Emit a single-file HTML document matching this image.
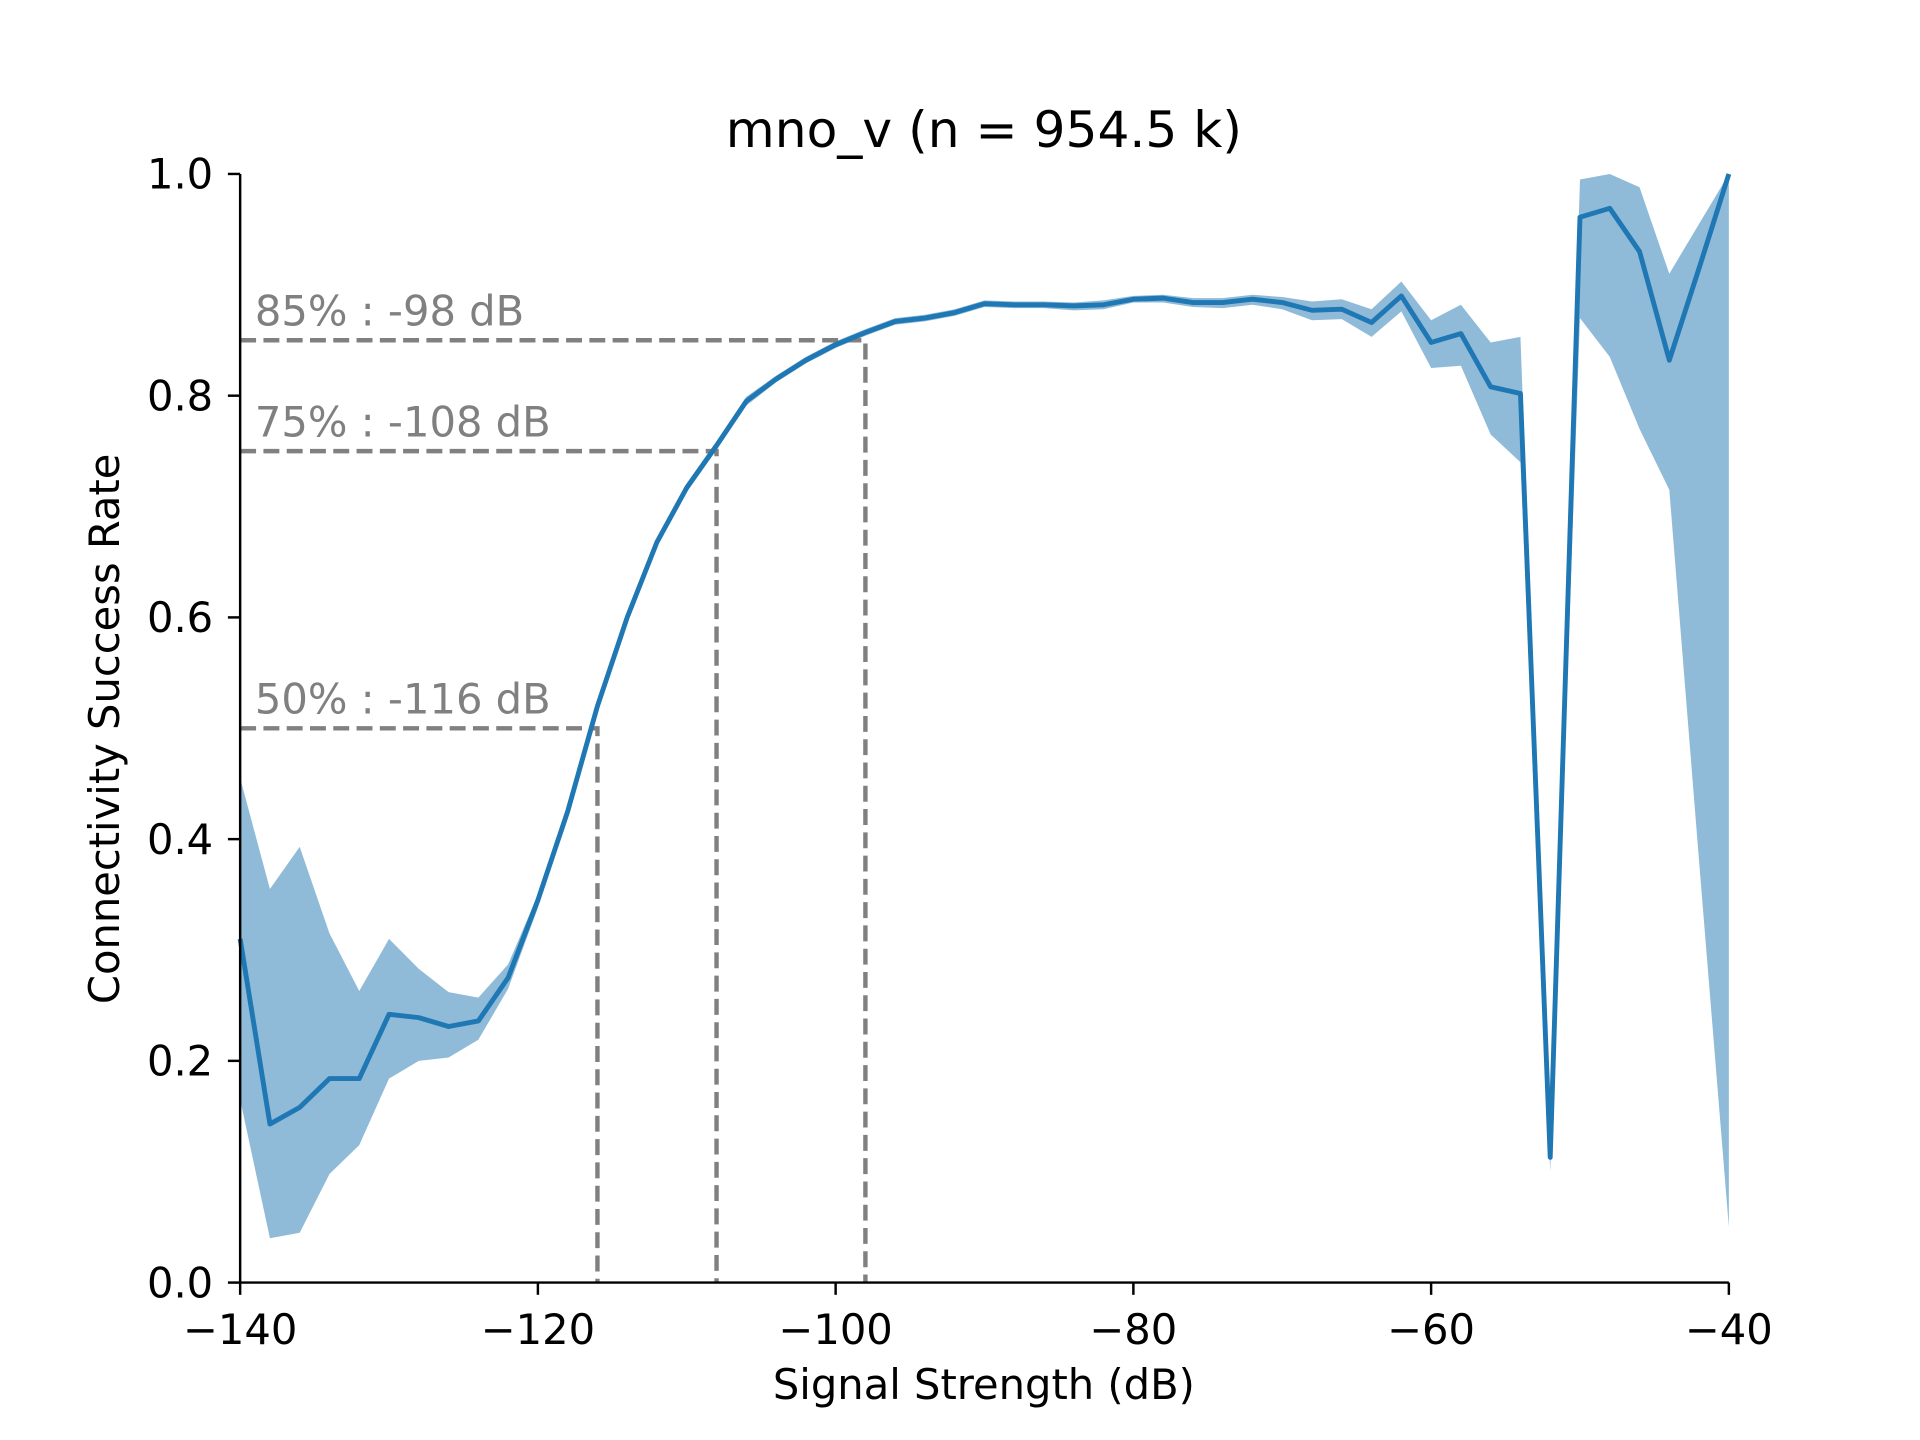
<!DOCTYPE html>
<html><head><meta charset="utf-8"><style>
html,body{margin:0;padding:0;background:#fff;}
svg{display:block;}
text{font-family:"DejaVu Sans","Liberation Sans",sans-serif;}
</style></head><body>
<svg id="chart" width="1920" height="1440" viewBox="0 0 1567 1175.5" preserveAspectRatio="none" xmlns="http://www.w3.org/2000/svg">
<text x="803" y="120" font-size="41" text-anchor="middle" fill="#000">mno_v (n = 954.5 k)</text>
<g id="band"></g>
<g id="refs"></g>
<g id="line"></g>
<g id="axes"></g>
<text x="803" y="1142" font-size="34" text-anchor="middle">Signal Strength (dB)</text>
<text transform="translate(97,595) rotate(-90)" font-size="34" text-anchor="middle">Connectivity Success Rate</text>
</svg>
<script>
const xs = [-140,-138,-136,-134,-132,-130,-128,-126,-124,-122,-120,-118,-116,-114,-112,-110,-108,-106,-104,-102,-100,-98,-96,-94,-92,-90,-88,-86,-84,-82,-80,-78,-76,-74,-72,-70,-68,-66,-64,-62,-60,-58,-56,-54,-52,-50,-48,-46,-44,-42,-40];
const meanVals = [0.31,0.143,0.158,0.184,0.184,0.242,0.239,0.231,0.236,0.275,0.345,0.425,0.52,0.60,0.668,0.717,0.755,0.795,0.815,0.832,0.846,0.857,0.867,0.87,0.875,0.883,0.882,0.882,0.881,0.882,0.887,0.888,0.884,0.884,0.887,0.884,0.877,0.878,0.866,0.89,0.848,0.856,0.808,0.802,0.113,0.961,0.969,0.93,0.832,0.915,1.0];
const lowerVals = [0.165,0.04,0.045,0.098,0.124,0.184,0.2,0.203,0.219,0.265,0.338,0.42,0.515,0.596,0.664,0.713,0.751,0.791,0.812,0.829,0.843,0.854,0.864,0.867,0.872,0.88,0.879,0.879,0.877,0.878,0.884,0.884,0.88,0.879,0.882,0.878,0.868,0.869,0.853,0.876,0.825,0.827,0.765,0.74,0.1,0.87,0.835,0.77,0.715,0.38,0.05];
const upperVals = [0.455,0.355,0.393,0.315,0.263,0.31,0.283,0.262,0.257,0.287,0.35,0.43,0.525,0.604,0.672,0.721,0.759,0.799,0.818,0.835,0.849,0.86,0.87,0.873,0.878,0.886,0.885,0.885,0.884,0.886,0.89,0.891,0.888,0.888,0.891,0.889,0.885,0.887,0.878,0.903,0.868,0.882,0.848,0.853,0.125,0.995,1.0,0.988,0.91,0.955,1.0];
const thrPct = [0.5,0.75,0.85];
const thrDb = [-116,-108,-98];
const thrLabels = ["50% : -116 dB","75% : -108 dB","85% : -98 dB"];
const xTicks = [-140,-120,-100,-80,-60,-40];
const yTicks = [0,0.2,0.4,0.6,0.8,1.0];
const yTickLabels = ["0.0","0.2","0.4","0.6","0.8","1.0"];

const X0=196,X1=1411,Y0=1047,Y1=142;
const sx = v => X0 + (v+140)/100*(X1-X0);
const sy = v => Y0 - v*(Y0-Y1);
const NS="http://www.w3.org/2000/svg";
function mk(tag, parent, attrs){const e=document.createElementNS(NS,tag);for(const k in attrs)e.setAttribute(k,attrs[k]);parent.appendChild(e);return e;}

let d = xs.map((x,i)=>(i?'L':'M')+sx(x)+','+sy(upperVals[i])).join('');
for(let i=xs.length-1;i>=0;i--) d+='L'+sx(xs[i])+','+sy(lowerVals[i]);
const band = mk('path', document.getElementById('band'), {d:d+'Z', fill:'#1f77b4', 'fill-opacity':'0.5', stroke:'none'});



const refs=document.getElementById('refs');
thrPct.forEach((p,i)=>{
  const pl = mk('polyline', refs, {points:`${sx(-140)},${sy(p)} ${sx(thrDb[i])},${sy(p)} ${sx(thrDb[i])},${sy(0)}`, fill:'none', stroke:'#808080', 'stroke-width':'3.6', 'stroke-dasharray':'13,6'});
  
  
  const t = mk('text', refs, {x:sx(-140)+12, y:sy(p)-12, 'font-size':'34', fill:'#808080'});
  t.textContent = thrLabels[i];
  
  
});

const ln = mk('polyline', document.getElementById('line'), {points:xs.map((x,i)=>sx(x)+','+sy(meanVals[i])).join(' '), fill:'none', stroke:'#1f77b4', 'stroke-width':'4', 'stroke-linejoin':'round'});



const ax=document.getElementById('axes');
mk('line',ax,{x1:X0,y1:Y0,x2:X1,y2:Y0,stroke:'#000','stroke-width':'2'});
mk('line',ax,{x1:X0,y1:Y0,x2:X0,y2:Y1,stroke:'#000','stroke-width':'2'});
xTicks.forEach(v=>{
  mk('line',ax,{x1:sx(v),y1:Y0,x2:sx(v),y2:Y0+10,stroke:'#000','stroke-width':'2'});
  const t=mk('text',ax,{x:sx(v),y:Y0+50,'font-size':'34','text-anchor':'middle'});
  t.textContent=(v<0?'\u2212':'')+Math.abs(v);
  
  
});
yTicks.forEach((v,i)=>{
  mk('line',ax,{x1:X0,y1:sy(v),x2:X0-10,y2:sy(v),stroke:'#000','stroke-width':'2'});
  const t=mk('text',ax,{x:X0-22,y:sy(v)+12,'font-size':'34','text-anchor':'end'});
  t.textContent=yTickLabels[i];
  
  
});
</script>
</body></html>
